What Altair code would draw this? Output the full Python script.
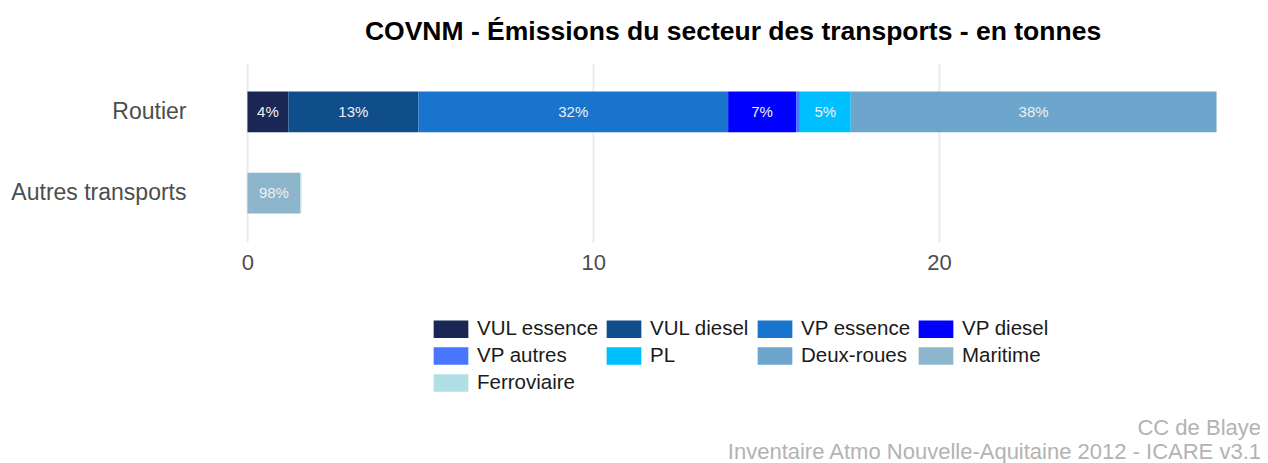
import altair as alt
import pandas as pd

# ---- data ----
sectors = ["VUL essence", "VUL diesel", "VP essence", "VP diesel", "VP autres",
           "PL", "Deux-roues", "Maritime", "Ferroviaire"]
groups = ["Routier", "Routier", "Routier", "Routier", "Routier",
          "Routier", "Routier", "Autres transports", "Autres transports"]
values = [1.185, 3.757, 8.96, 1.965, 0.11, 1.47, 10.58, 1.53, 0.03]
colors = ["#1A2654", "#104E8B", "#1874CD", "#0000FF", "#4876FF",
          "#00BFFF", "#6CA6CD", "#8DB6CD", "#B0E0E6"]
group_order = ["Routier", "Autres transports"]
x_ticks = [0, 10, 20]
title_text = "COVNM - Émissions du secteur des transports - en tonnes"
caption_lines = ["CC de Blaye", "Inventaire Atmo Nouvelle-Aquitaine 2012 - ICARE v3.1"]

FONT = "Liberation Sans"

df = pd.DataFrame({"groupe": groups, "secteur": sectors, "valeur": values})
df["fin"] = df.groupby("groupe")["valeur"].cumsum()
df["debut"] = df["fin"] - df["valeur"]
df["milieu"] = (df["debut"] + df["fin"]) / 2
df["pct"] = df["valeur"] / df.groupby("groupe")["valeur"].transform("sum") * 100
df["label"] = df["pct"].round().astype(int).astype(str) + "%"
labels_df = df[df["pct"] >= 3].copy()

W, H = 1060, 179
FULL_W = 1066
total_max = df.groupby("groupe")["valeur"].sum().max()
x_lo = -0.05 * total_max
x_hi = x_lo + (W / FULL_W) * 1.1 * total_max
x_scale = alt.Scale(domain=[x_lo, x_hi], nice=False, zero=False)
y_scale = alt.Scale(domain=group_order, paddingInner=0.5, paddingOuter=0.35)
color_scale = alt.Scale(domain=sectors, range=colors)

y_enc = alt.Y("groupe:N", scale=y_scale, sort=group_order,
              axis=alt.Axis(title=None, labelFontSize=23, labelColor="#4D4D4D",
                            labelFont=FONT, labelPadding=13, ticks=False,
                            domain=False, grid=False))

bars = alt.Chart(df).mark_bar().encode(
    y=y_enc,
    x=alt.X("debut:Q", scale=x_scale,
            axis=alt.Axis(values=x_ticks, title=None, labelFontSize=22,
                          labelColor="#4D4D4D", labelFont=FONT, labelPadding=10,
                          ticks=False, domain=False, grid=True,
                          gridColor="#EBEBEB", gridWidth=2)),
    x2="fin:Q",
    color=alt.Color("secteur:N", scale=color_scale, sort=sectors,
                    legend=alt.Legend(title=None, orient="none", legendX=241,
                                      legendY=255, columns=4, direction="horizontal",
                                      symbolType="M-1.6,-0.8H1.6V0.8H-1.6Z",
                                      symbolSize=470, symbolStrokeWidth=0,
                                      symbolOpacity=1, labelFontSize=20.5,
                                      labelFont=FONT, labelColor="#1A1A1A",
                                      labelOffset=15, rowPadding=5,
                                      columnPadding=7, labelLimit=300)),
)

texts = alt.Chart(labels_df).mark_text(color="#F0F0F0", fontSize=15, font=FONT).encode(
    y=alt.Y("groupe:N", scale=y_scale, sort=group_order),
    x=alt.X("milieu:Q", scale=x_scale),
    text="label:N",
)

caption = alt.Chart(pd.DataFrame({"c": [0]})).mark_text(
    text=caption_lines, align="right", baseline="top", lineHeight=24,
    fontSize=22, font=FONT, color="#B3B3B3",
).encode(x=alt.value(1062), y=alt.value(355))

chart = alt.layer(bars, texts, caption).properties(
    width=W, height=H,
    title=alt.TitleParams(title_text, fontSize=26.5, fontWeight="bold", font=FONT,
                          anchor="middle", frame="group", offset=18, dx=4,
                          color="#000000"),
    autosize="none",
    padding={"left": 191, "top": 55, "right": 1, "bottom": 221},
).configure_view(stroke=None)

chart.save("out.html", embed_options={"renderer": "svg", "actions": False})
